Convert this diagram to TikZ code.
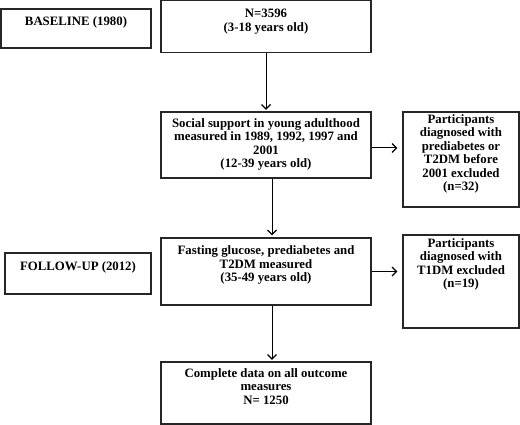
\documentclass[tikz,border=0pt]{standalone}
\usepackage{fontspec}
\setmainfont{Liberation Serif}
\usetikzlibrary{arrows.meta, positioning, calc}

\tikzset{
  box/.style={draw=black!85, line width=1.3pt, rectangle, inner sep=0pt},
  txt/.style={anchor=north, align=center, inner sep=0pt,
    font=\fontsize{12.8}{13.5}\selectfont\bfseries},
  flow/.style={line width=1pt, -{Straight Barb[length=4.5pt,width=9pt,line width=1.2pt]}}
}

\begin{document}
\begin{tikzpicture}[x=1pt, y=-1pt]
\useasboundingbox (0,0) rectangle (520,425);

% Time points
\node[box, minimum width=150, minimum height=39] (base) at (76,28.5) {};
\node[txt] (basetxt) at ([yshift=-8pt]base.north) {BASELINE (1980)};
\node[box, minimum width=146, minimum height=41] (follow) at (78,273.5) {};
\node[txt] (followtxt) at ([yshift=-9pt]follow.north) {FOLLOW-UP (2012)};

% Main flow
\node[box, minimum width=210, minimum height=52] (start) at (266,26.5) {};
\node[txt] (starttxt) at ([yshift=-9pt]start.north) {N=3596\\(3-18 years old)};

\node[box, minimum width=210, minimum height=66] (social) at (266,145) {};
\node[txt] (socialtxt) at ([yshift=-7pt]social.north)
  {Social support in young adulthood\\measured in 1989, 1992, 1997 and\\2001\\(12-39 years old)};

\node[box, minimum width=210, minimum height=67] (fasting) at (266,271.5) {};
\node[txt] (fastingtxt) at ([yshift=-8.5pt]fasting.north)
  {Fasting glucose, prediabetes and\\T2DM measured\\(35-49 years old)};

\node[box, minimum width=210, minimum height=62] (complete) at (266,393) {};
\node[txt] (completetxt) at ([yshift=-7pt]complete.north)
  {Complete data on all outcome\\measures\\N= 1250};

% Exclusions
\node[box, minimum width=116, minimum height=95] (exclA) at (461,159.5) {};
\node[txt] (exclAtxt) at ([yshift=-3pt]exclA.north)
  {Participants\\diagnosed with\\prediabetes or\\T2DM before\\2001 excluded\\(n=32)};

\node[box, minimum width=116, minimum height=93] (exclB) at (461,281.5) {};
\node[txt] (exclBtxt) at ([yshift=-4pt]exclB.north)
  {Participants\\diagnosed with\\T1DM excluded\\(n=19)};

% Arrows
\draw[flow, shorten >=1.5pt] (start.south) -- (social.north);
\draw[flow, shorten >=2pt] ([xshift=6pt]social.south) -- ([xshift=6pt]fasting.north);
\draw[flow, shorten >=1.5pt] ([xshift=6pt]fasting.south) -- ([xshift=6pt]complete.north);
\draw[flow, shorten >=5pt] ([yshift=-3pt]social.east) -- ([yshift=-3pt]social.east -| exclA.west);
\draw[flow, shorten >=5pt] (fasting.east) -- (fasting.east -| exclB.west);
\end{tikzpicture}
\end{document}
